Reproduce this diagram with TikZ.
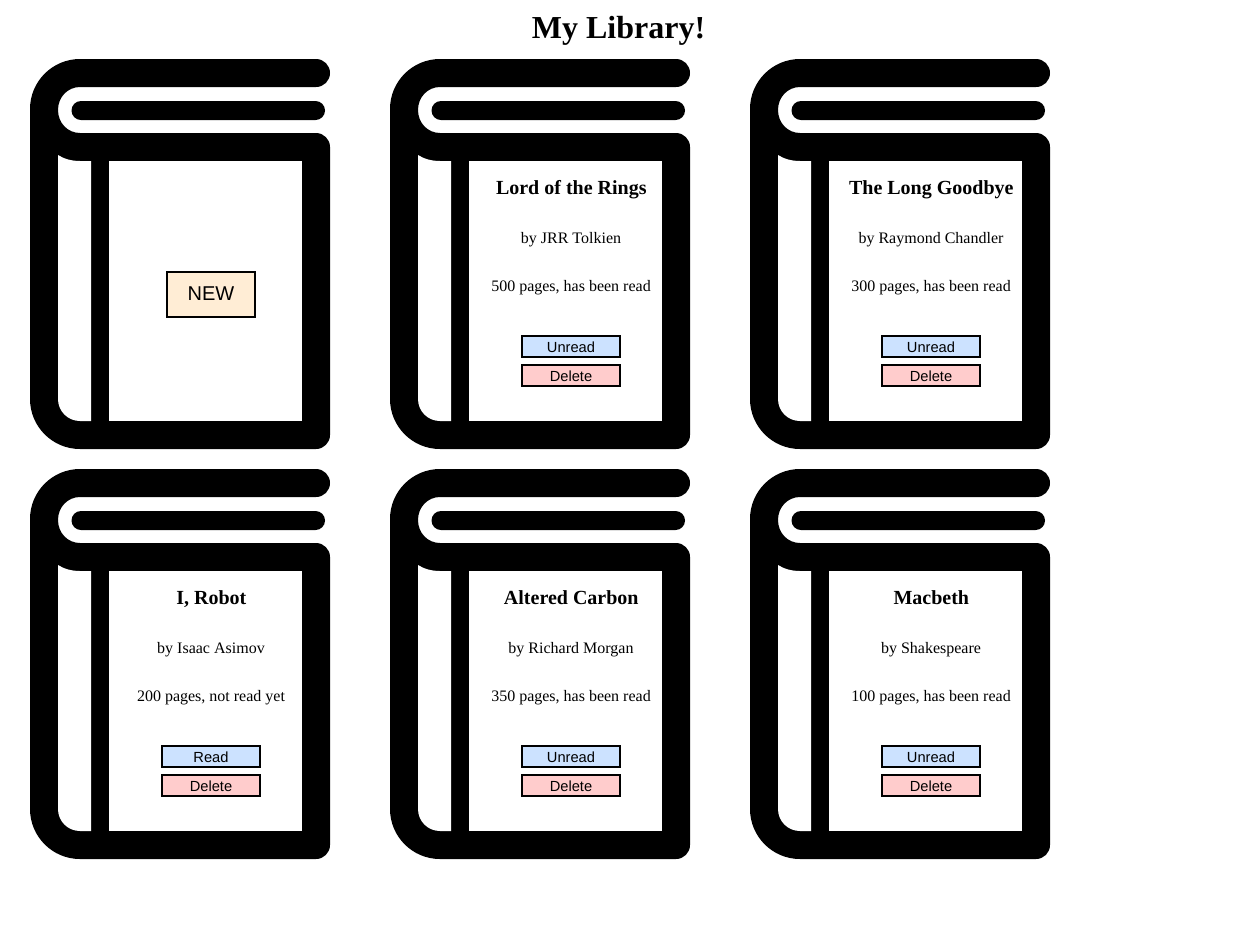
\documentclass[tikz,border=0pt]{standalone}
\usepackage{fontspec}
\setmainfont{Liberation Serif}
\newfontfamily\btnfont{Liberation Sans}
\definecolor{unreadblue}{HTML}{CCE2FF}
\definecolor{deletered}{HTML}{FFCCCC}
\definecolor{newcream}{HTML}{FFEDD5}
\tikzset{
  x=1pt,y=-1pt,
  bookink/.style={fill=black,draw=none},
  bookpage/.style={fill=white,draw=none},
  btn/.style={draw=black,line width=2pt,minimum width=98pt,minimum height=21pt,inner sep=0pt,outer sep=0pt,font=\btnfont\fontsize{14.67}{16}\selectfont},
  readbtn/.style={btn,fill=unreadblue},
  delbtn/.style={btn,fill=deletered},
  newbtn/.style={draw=black,line width=2pt,fill=newcream,minimum width=88pt,minimum height=45pt,inner sep=0pt,outer sep=0pt,font=\btnfont\fontsize{20}{24}\selectfont},
  booktitle/.style={anchor=base,inner sep=0pt,font=\bfseries\fontsize{20}{24}\selectfont},
  bookline/.style={anchor=base,inner sep=0pt,font=\fontsize{16}{20}\selectfont},
}
\newcommand{\lowertext}[1]{\raisebox{-0.7pt}[\height][\depth]{#1}}
% #1 x offset, #2 y offset
\newcommand{\bookicon}[2]{%
  \begin{scope}[shift={(#1,#2)}]
    \path[bookink] (80,59) -- (316,59) arc[start angle=-90,end angle=90,radius=14,y=1pt]
      -- (80,87) .. controls (67.8,87) and (58,97) .. (58,110)
      .. controls (58,123) and (67.8,133) .. (80,133) -- (316,133)
      .. controls (323.7,133) and (330,139.3) .. (330,147) -- (330,435)
      .. controls (330,442.7) and (323.7,449) .. (316,449) -- (80,449)
      .. controls (52.4,449) and (30,426.6) .. (30,399) -- (30,109)
      .. controls (30,81.4) and (52.4,59) .. (80,59) -- cycle;
    \path[bookink] (81,101) -- (315.5,101)
      .. controls (320.8,101) and (325,105.2) .. (325,110.5)
      .. controls (325,115.8) and (320.8,120) .. (315.5,120) -- (81,120)
      .. controls (75.7,120) and (71.5,115.8) .. (71.5,110.5)
      .. controls (71.5,105.2) and (75.7,101) .. (81,101) -- cycle;
    \path[bookpage] (58,155) .. controls (64,159) and (72,161) .. (80,161) -- (91,161) -- (91,421) -- (80,421)
      .. controls (67.8,421) and (58,411.2) .. (58,399) -- cycle;
    \path[bookpage] (109,161) rectangle (302,421);
  \end{scope}%
}
\newcommand{\bookcard}[8]{% name, dx, dy, title, author, pages, status button, status text
  \bookicon{#2}{#3}
  \node[booktitle] (#1t) at (211.3+#2,194+#3) {#4};
  \node[bookline] (#1a) at (211+#2,243+#3) {#5};
  \node[bookline] (#1p) at (211+#2,291+#3) {#6};
  \node[readbtn] (#1r) at (211+#2,346.5+#3) {\lowertext{#7}};
  \node[delbtn] (#1d) at (211+#2,375.5+#3) {\lowertext{#8}};
}
\begin{document}
\begin{tikzpicture}
\useasboundingbox[fill=white] (0,0) rectangle (1237,927);
\node[anchor=base,inner sep=0pt,font=\bfseries\fontsize{32}{36}\selectfont] (heading) at (618.5,38.5) {My Library!};
\bookicon{0}{0}
\node[newbtn] (newbook) at (211,294.5) {\raisebox{0.5pt}[\height][\depth]{NEW}};
\bookcard{lotr}{360}{0}{Lord of the Rings}{by JRR Tolkien}{500 pages, has been read}{Unread}{Delete}
\bookcard{long}{720}{0}{The Long Goodbye}{by Raymond Chandler}{300 pages, has been read}{Unread}{Delete}
\bookcard{robot}{0}{410}{I, Robot}{by Isaac Asimov}{200 pages, not read yet}{Read}{Delete}
\bookcard{carbon}{360}{410}{Altered Carbon}{by Richard Morgan}{350 pages, has been read}{Unread}{Delete}
\bookcard{macb}{720}{410}{Macbeth}{by Shakespeare}{100 pages, has been read}{Unread}{Delete}
\end{tikzpicture}
\end{document}
